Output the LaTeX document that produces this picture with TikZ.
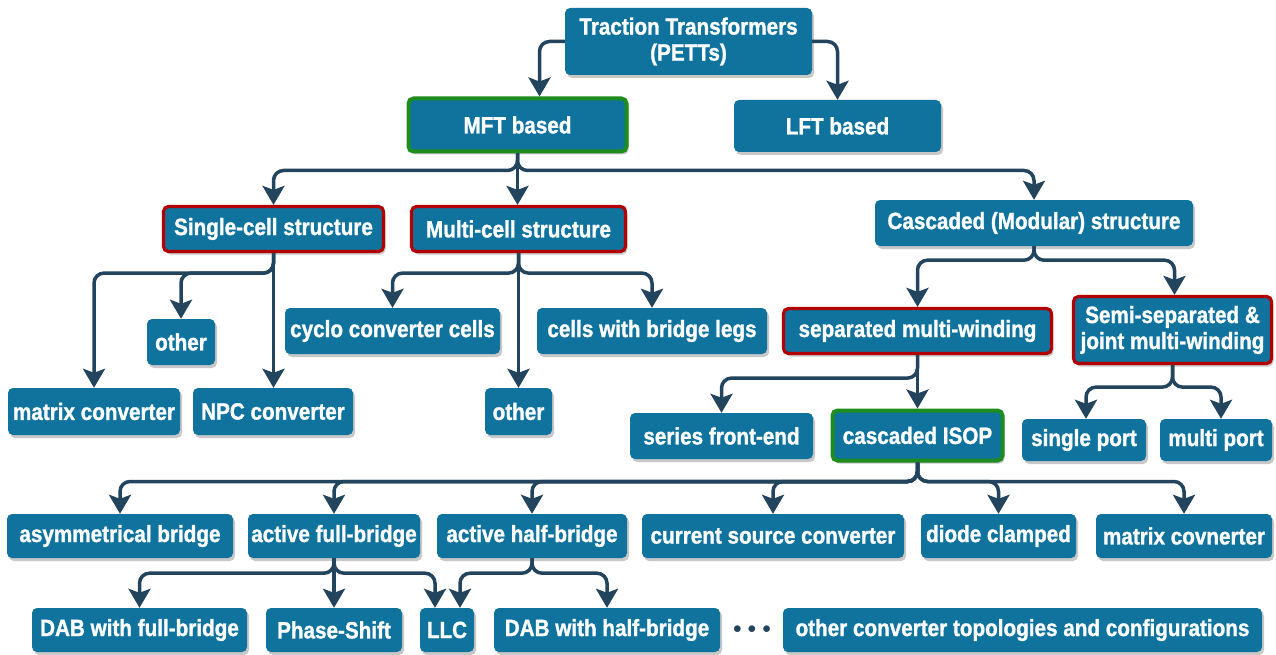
\documentclass[tikz,border=0pt]{standalone}
\usepackage{fontspec}
\setmainfont{Liberation Sans}[FakeStretch=0.88, BoldFeatures={FakeBold=1.2}]
\usetikzlibrary{arrows.meta,shadows}
\definecolor{boxblue}{HTML}{10739E}
\definecolor{connc}{HTML}{23445D}
\definecolor{bordred}{HTML}{B20000}
\definecolor{bordgreen}{HTML}{1E8C1E}
\tikzset{
  box/.style={rounded corners=5pt, fill=boxblue, text=white, inner sep=0pt, align=center,
    font=\bfseries\fontsize{23.5}{26}\selectfont,
    drop shadow={shadow xshift=2pt, shadow yshift=-3pt, opacity=0.3, fill=black!70}},
  redbox/.style={box, draw=bordred, line width=3.2pt},
  greenbox/.style={box, draw=bordgreen, line width=4pt},
  conn/.style={draw=connc, line width=3.5pt, rounded corners=10pt,
    -{Stealth[length=19pt,width=22pt,inset=4pt]}},
}
\begin{document}
\begin{tikzpicture}[x=1pt,y=-1pt]
\useasboundingbox[fill=white] (0,0) rectangle (1276,655);
% level 0/1
\node[box, minimum width=247, minimum height=67] (root) at (688.5,41.5) {Traction Transformers\\(PETTs)};
\node[greenbox, minimum width=218, minimum height=53] (mft) at (517.5,125) {MFT based};
\node[box, minimum width=207, minimum height=52] (lft) at (837.5,126) {LFT based};
% level 2
\node[redbox, minimum width=220, minimum height=45] (single) at (273.5,229) {Single-cell structure};
\node[redbox, minimum width=214, minimum height=45] (multi) at (518.5,229) {Multi-cell structure};
\node[box, minimum width=318, minimum height=46] (casc) at (1034,223) {Cascaded (Modular) structure};
% level 3
\node[box, minimum width=68, minimum height=46] (other1) at (181,342) {other};
\node[box, minimum width=172, minimum height=47] (matrix) at (94,411.5) {matrix converter};
\node[box, minimum width=160, minimum height=47] (npc) at (273,411.5) {NPC converter};
\node[box, minimum width=215, minimum height=46] (cyclo) at (392.5,331) {cyclo converter cells};
\node[box, minimum width=230, minimum height=46] (legs) at (652,331) {cells with bridge legs};
\node[box, minimum width=67, minimum height=47] (other2) at (518.5,411.5) {other};
\node[redbox, minimum width=268, minimum height=45] (sep) at (917.5,331) {separated multi-winding};
\node[redbox, minimum width=198, minimum height=67] (semi) at (1172.5,330) {Semi-separated \&\\joint multi-winding};
% level 4
\node[box, minimum width=183, minimum height=46] (series) at (721.5,436) {series front-end};
\node[greenbox, minimum width=170, minimum height=50] (isop) at (917.5,435.5) {cascaded ISOP};
\node[box, minimum width=124, minimum height=42] (sport) at (1084,440) {single port};
\node[box, minimum width=112, minimum height=42] (mport) at (1216,440) {multi port};
% level 5
\node[box, minimum width=226, minimum height=44] (asym) at (120,536) {asymmetrical bridge};
\node[box, minimum width=172, minimum height=44] (fullb) at (334,536) {active full-bridge};
\node[box, minimum width=190, minimum height=44] (halfb) at (532,536) {active half-bridge};
\node[box, minimum width=262, minimum height=44] (csc) at (773,536) {current source converter};
\node[box, minimum width=155, minimum height=44] (diode) at (998.5,536) {diode clamped};
\node[box, minimum width=176, minimum height=44] (matcov) at (1184,536) {matrix covnerter};
% level 6
\node[box, minimum width=215, minimum height=44] (dabf) at (139.5,630) {DAB with full-bridge};
\node[box, minimum width=136, minimum height=44] (phase) at (334,630) {Phase-Shift};
\node[box, minimum width=54, minimum height=44] (llc) at (447,630) {LLC};
\node[box, minimum width=226, minimum height=44] (dabh) at (607,630) {DAB with half-bridge};
\node[box, minimum width=479, minimum height=44] (others) at (1022.5,630) {other converter topologies and configurations};
\node[text=connc, font=\bfseries\fontsize{18}{22}\selectfont, inner sep=0pt] (dots) at (752,630) {$\bullet$\,\,$\bullet$\,\,$\bullet$};
% connectors
\draw[conn] (root.west) -| ([xshift=22pt]mft.north);
\draw[conn] (root.east) -| (lft.north);
\draw[conn] (mft.south) -- ++(0,17) -| (single.north);
\draw[conn] (mft.south) -- (mft.south |- multi.north);
\draw[conn] (mft.south) -- ++(0,17) -| (casc.north);
\draw[conn] (single.south) -- ++(0,20) -| (matrix.north);
\draw[conn] (single.south) -- ++(0,20) -| (other1.north);
\draw[conn] (single.south) -- (single.south |- npc.north);
\draw[conn] (multi.south) -- ++(0,20) -| (cyclo.north);
\draw[conn] (multi.south) -- (multi.south |- other2.north);
\draw[conn] (multi.south) -- ++(0,20) -| (legs.north);
\draw[conn] (casc.south) -- ++(0,14) -| (sep.north);
\draw[conn] (casc.south) -- ++(0,14) -| ([xshift=2pt]semi.north);
\draw[conn] (sep.south) -- ++(0,23) -| (series.north);
\draw[conn] (sep.south) -- (sep.south |- isop.north);
\draw[conn] (semi.south) -- ++(0,22) -| ([xshift=2pt]sport.north);
\draw[conn] (semi.south) -- ++(0,22) -| ([xshift=5pt]mport.north);
\draw[conn] (isop.south) -- ++(0,19) -| (asym.north);
\draw[conn] (isop.south) -- ++(0,19) -| (fullb.north);
\draw[conn] (isop.south) -- ++(0,19) -| (halfb.north);
\draw[conn] (isop.south) -- ++(0,19) -| (csc.north);
\draw[conn] (isop.south) -- ++(0,19) -| (diode.north);
\draw[conn] (isop.south) -- ++(0,19) -| (matcov.north);
\draw[conn] (fullb.south) -- ++(0,15) -| (dabf.north);
\draw[conn] (fullb.south) -- (fullb.south |- phase.north);
\draw[conn] (fullb.south) -- ++(0,15) -| ([xshift=-12pt]llc.north);
\draw[conn] (halfb.south) -- ++(0,15) -| ([xshift=13pt]llc.north);
\draw[conn] (halfb.south) -- ++(0,15) -| (dabh.north);
\end{tikzpicture}
\end{document}
